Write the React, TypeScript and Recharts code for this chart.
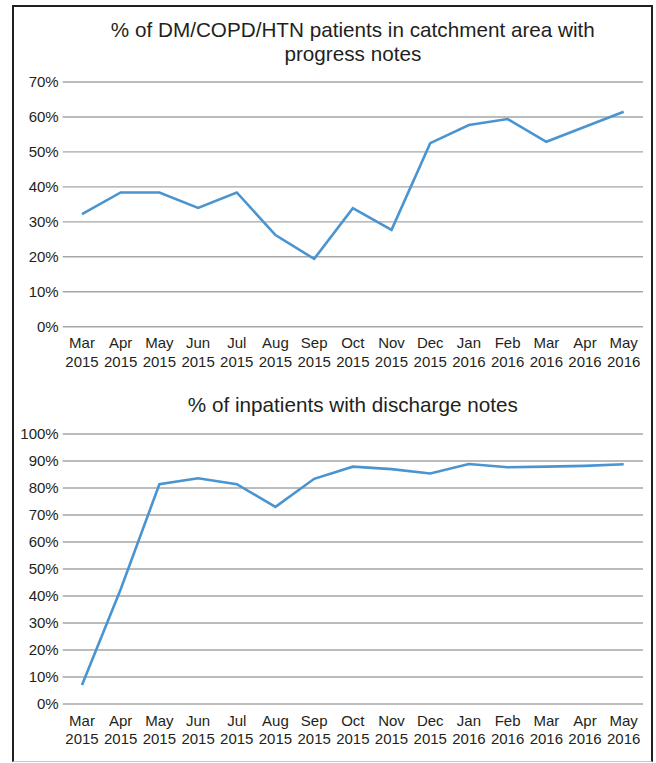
import { LineChart, Line, XAxis, YAxis, CartesianGrid } from 'recharts'

const MONTHS = ['Mar', 'Apr', 'May', 'Jun', 'Jul', 'Aug', 'Sep', 'Oct', 'Nov', 'Dec', 'Jan', 'Feb', 'Mar', 'Apr', 'May']
const YEARS = ['2015', '2015', '2015', '2015', '2015', '2015', '2015', '2015', '2015', '2015', '2016', '2016', '2016', '2016', '2016']

// % of DM/COPD/HTN patients with progress notes
const PROGRESS_NOTES = [32.2, 38.4, 38.4, 34.0, 38.4, 26.2, 19.4, 33.9, 27.7, 52.5, 57.7, 59.4, 52.9, 57.2, 61.5]
// % of inpatients with discharge notes
const DISCHARGE_NOTES = [7.0, 42.5, 81.4, 83.6, 81.4, 73.0, 83.4, 87.9, 87.0, 85.4, 88.9, 87.7, 87.9, 88.2, 88.8]

const TICKS_1 = [0, 10, 20, 30, 40, 50, 60, 70]
const TICKS_2 = [0, 10, 20, 30, 40, 50, 60, 70, 80, 90, 100]

const FONT = '"Liberation Sans", Arial, sans-serif'
const TEXT = '#231f20'
const GRID = '#a6a6a6'
const LINE = '#4a94d0'

const rows1 = MONTHS.map((m, i) => ({ label: `${m} ${YEARS[i]}`, value: PROGRESS_NOTES[i] }))
const rows2 = MONTHS.map((m, i) => ({ label: `${m} ${YEARS[i]}`, value: DISCHARGE_NOTES[i] }))

function MonthTick({ x, y, payload }: any) {
  const [m, yr] = String(payload.value).split(' ')
  return (
    <text x={x} textAnchor="middle" fontSize={15} fill={TEXT} fontFamily={FONT}>
      <tspan x={x} y={y + 21.5}>{m}</tspan>
      <tspan x={x} y={y + 40}>{yr}</tspan>
    </text>
  )
}

function PctChart({ data, ticks, max, top, height, marginTop, axisHeight }: any) {
  return (
    <div style={{ position: 'absolute', left: 0, top, width: 656, height }}>
      <LineChart
        width={656}
        height={height}
        data={data}
        margin={{ top: marginTop, right: 13, bottom: 0, left: 0 }}
      >
        <CartesianGrid horizontal vertical={false} stroke={GRID} strokeWidth={1.4} />
        <XAxis
          dataKey="label"
          interval={0}
          axisLine={false}
          tickLine={false}
          tickSize={0}
          tickMargin={0}
          padding={{ left: 19.3, right: 19.3 }}
          tick={<MonthTick />}
          height={axisHeight}
        />
        <YAxis
          width={62.7}
          domain={[0, max]}
          ticks={ticks}
          interval={0}
          axisLine={false}
          tickLine={false}
          tickSize={0}
          tickMargin={4}
          tickFormatter={(v: number) => `${v}%`}
          tick={{ fontSize: 15, fill: TEXT, fontFamily: FONT }}
        />
        <Line
          type="linear"
          dataKey="value"
          stroke={LINE}
          strokeWidth={2.6}
          dot={false}
          isAnimationActive={false}
        />
      </LineChart>
    </div>
  )
}

const titleStyle: React.CSSProperties = {
  position: 'absolute',
  left: 62.7,
  width: 580.3,
  textAlign: 'center',
  fontFamily: FONT,
  fontSize: 20.7,
  color: TEXT,
  lineHeight: '24px',
}

export default function App() {
  return (
    <div style={{ position: 'absolute', left: 0, top: 0, width: 656, height: 763, background: '#fff' }}>
      <div
        style={{
          position: 'absolute',
          left: 12,
          top: 5,
          width: 641,
          height: 757,
          boxSizing: 'border-box',
          borderTop: '2px solid #231f20',
          borderLeft: '2.5px solid #231f20',
          borderRight: '2px solid #231f20',
          borderBottom: '1px solid #c8c8c8',
        }}
      />
      <div style={{ ...titleStyle, top: 18 }}>
        % of DM/COPD/HTN patients in catchment area with<br />progress notes
      </div>
      <PctChart
        data={rows1}
        ticks={TICKS_1}
        max={70}
        top={0}
        height={380}
        marginTop={82}
        axisHeight={53.3}
      />
      <div style={{ ...titleStyle, top: 393 }}>% of inpatients with discharge notes</div>
      <PctChart
        data={rows2}
        ticks={TICKS_2}
        max={100}
        top={380}
        height={383}
        marginTop={54}
        axisHeight={59}
      />
    </div>
  )
}
